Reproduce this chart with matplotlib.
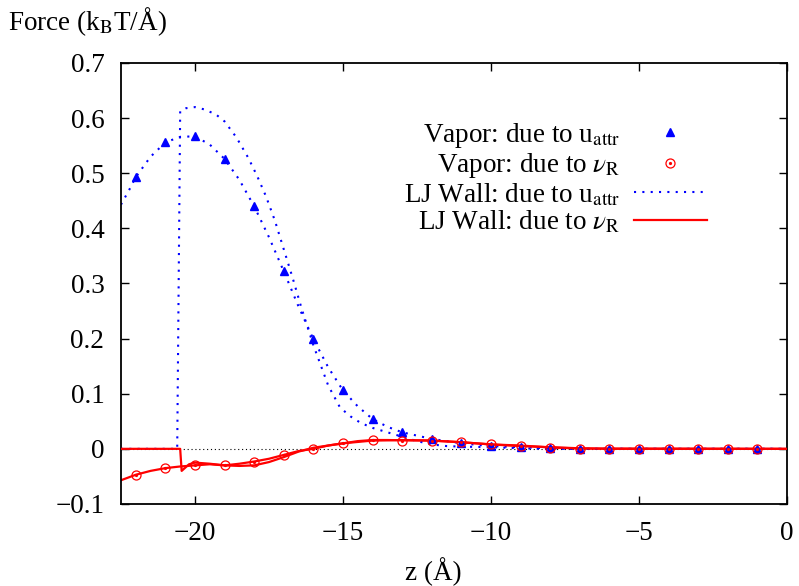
import matplotlib
matplotlib.use("Agg")
import matplotlib.pyplot as plt
from matplotlib.legend_handler import HandlerTuple

plt.rcParams["font.family"] = ["Liberation Serif", "DejaVu Serif"]
plt.rcParams["mathtext.fontset"] = "stix"
plt.rcParams["font.size"] = 19.5

# Vapor: force due to u_attr (sampled at integer z)
vap_attr_z = [-22, -21, -20, -19, -18, -17, -16, -15, -14, -13, -12, -11,
              -10, -9, -8, -7, -6, -5, -4, -3, -2, -1]
vap_attr_f = [0.493, 0.556, 0.567, 0.526, 0.440, 0.322, 0.199, 0.106, 0.054,
              0.030, 0.018, 0.010, 0.005, 0.003, 0.001, 0.0, 0.0, 0.0, 0.0,
              0.0, 0.0, 0.0]

# Vapor: force due to nu_R (sampled at integer z)
vap_rep_z = vap_attr_z
vap_rep_f = [-0.047, -0.035, -0.030, -0.030, -0.023, -0.0115, 0.0, 0.010,
             0.016, 0.0145, 0.015, 0.012, 0.008, 0.006, 0.0024, 0.0006, 0.0,
             0.0, 0.0, 0.0, 0.0, 0.0]

# Vapor profiles on a finer grid (curves through the sampled points)
vap_line_z = [-22.5, -22.2, -22.0, -21.5, -21.0, -20.5, -20.0, -19.5, -19.0,
              -18.5, -18.0, -17.5, -17.0, -16.5, -16.0, -15.5, -15.0, -14.5,
              -14.0, -13.5, -13.0, -12.0, -11.0, -10.0, -9.0, -8.0, -7.0, 0.0]
vap_line_attr = [0.443, 0.472, 0.493, 0.530, 0.556, 0.566, 0.567, 0.552,
                 0.526, 0.488, 0.440, 0.384, 0.322, 0.258, 0.199, 0.148,
                 0.106, 0.077, 0.054, 0.040, 0.030, 0.018, 0.010, 0.005,
                 0.003, 0.001, 0.0, 0.0]
vap_line_rep = [-0.057, -0.051, -0.047, -0.040, -0.035, -0.032, -0.030,
                -0.028, -0.030, -0.027, -0.023, -0.018, -0.011, -0.004,
                0.000, 0.006, 0.010, 0.014, 0.016, 0.016, 0.0155, 0.015,
                0.012, 0.008, 0.006, 0.0025, 0.0006, 0.0]

# LJ wall: force due to u_attr
wall_attr_z = [-22.5, -20.6, -20.5, -20.3, -20.0, -19.7, -19.3, -19.0, -18.6,
               -18.2, -17.9, -17.6, -17.3, -17.0, -16.7, -16.4, -16.0, -15.5,
               -15.1, -14.75, -14.4, -14.0, -13.5, -13.0, -12.5, -12.0,
               -11.5, -11.0, -10.0, -9.0, -8.0, 0.0]
wall_attr_f = [0.0, 0.0, 0.613, 0.618, 0.620, 0.616, 0.607, 0.594, 0.565,
               0.528, 0.495, 0.458, 0.414, 0.362, 0.310, 0.255, 0.188, 0.115,
               0.075, 0.059, 0.047, 0.038, 0.030, 0.022, 0.014, 0.008, 0.005,
               0.004, 0.003, 0.001, 0.0, 0.0]

# LJ wall: force due to nu_R
wall_rep_z = [-22.5, -20.5, -20.45, -20.2, -20.0, -19.5, -19.0, -18.5, -18.0,
              -17.5, -17.0, -16.5, -16.0, -15.5, -15.0, -14.0, -13.0, -12.0,
              -11.0, -10.0, -9.0, -8.0, -7.0, -6.0, 0.0]
wall_rep_f = [0.0, 0.0, -0.040, -0.028, -0.025, -0.027, -0.030, -0.031,
              -0.030, -0.024, -0.015, -0.005, 0.002, 0.006, 0.010, 0.015,
              0.016, 0.015, 0.012, 0.008, 0.005, 0.003, 0.001, 0.0, 0.0]

xticks = [-20, -15, -10, -5, 0]
yticks = [-0.1, 0.0, 0.1, 0.2, 0.3, 0.4, 0.5, 0.6, 0.7]

blue = "#0000ff"
red = "#ff0000"
dots = (0, (1, 3))

fig = plt.figure(figsize=(7.99, 5.86), dpi=100)
ax = fig.add_axes([0.1514, 0.140, 0.8336, 0.7525])

ax.axhline(0, color="black", lw=0.8, ls=(0, (1, 2.5)), zorder=1)

ax.plot(vap_line_z, vap_line_attr, color=blue, lw=1.5, ls=dots, zorder=2)
ax.plot(vap_line_z, vap_line_rep, color=red, lw=1.6, zorder=2)
h_wa, = ax.plot(wall_attr_z, wall_attr_f, color=blue, lw=1.5, ls=dots,
                zorder=2)
h_wr, = ax.plot(wall_rep_z, wall_rep_f, color=red, lw=1.6, zorder=3)

h_tri, = ax.plot(vap_attr_z, vap_attr_f, ls="none", marker="^", ms=5.5,
                 color=blue, zorder=4)
h_circ, = ax.plot(vap_rep_z, vap_rep_f, ls="none", marker="o", ms=6.5,
                  mfc="none", mec=red, mew=0.9, zorder=5)
h_dot, = ax.plot(vap_rep_z, vap_rep_f, ls="none", marker="o", ms=1.3,
                 color=red, zorder=5)

ax.set_xlim(-22.5, 0)
ax.set_ylim(-0.1, 0.7)
ax.set_xticks(xticks)
ax.set_xticklabels(["\u2212%d" % abs(v) if v < 0 else "%d" % v for v in xticks])
ax.set_yticks(yticks)
ax.set_yticklabels(["\u22120.1" if v < 0 else ("0" if v == 0 else "%.1f" % v)
                    for v in yticks])
ax.tick_params(direction="in", length=6, width=1.0, top=True, right=True)
ax.tick_params(axis="y", pad=12)
ax.tick_params(axis="x", pad=12)
for s in ax.spines.values():
    s.set_linewidth(1.3)

leg = ax.legend(
    [h_tri, (h_circ, h_dot), h_wa, h_wr],
    ["Vapor: due to u$_{\\mathrm{attr}}$",
     "Vapor: due to $\\mathit{\\nu}_{\\mathrm{R}}$",
     "LJ Wall: due to u$_{\\mathrm{attr}}$",
     "LJ Wall: due to $\\mathit{\\nu}_{\\mathrm{R}}$"],
    handler_map={tuple: HandlerTuple(ndivide=1)},
    markerfirst=False, frameon=False, loc="upper right",
    bbox_to_anchor=(0.9, 0.9), handlelength=2.7, handletextpad=0.5,
    labelspacing=0.05, borderpad=0, numpoints=1,
)

fig.text(8 / 799, 1 - 30 / 586, "Force (k$_{\\mathrm{B}}$T/\u00c5)",
         ha="left", va="baseline")
fig.text(433 / 799, 1 - 580 / 586, "z (\u00c5)", ha="center", va="baseline")

fig.savefig("out.png", dpi=100)
